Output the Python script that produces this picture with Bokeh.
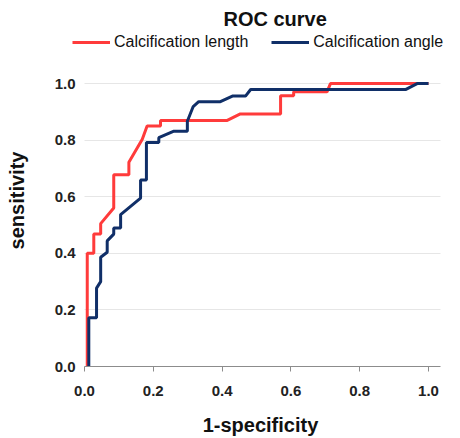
from bokeh.plotting import figure
from bokeh.models import Range1d, Legend, LegendItem, FixedTicker, Title, CustomJSTickFormatter
from bokeh.embed import file_html
from bokeh.resources import INLINE

# Data
length_fpr = [0.008, 0.008, 0.027, 0.027, 0.047, 0.047, 0.085, 0.085, 0.129, 0.129, 0.168, 0.182,
              0.221, 0.221, 0.415, 0.453, 0.570, 0.570, 0.608, 0.608, 0.705, 0.715, 1.0]
length_tpr = [0.0, 0.40, 0.40, 0.468, 0.468, 0.505, 0.56, 0.678, 0.678, 0.722, 0.803, 0.85,
              0.85, 0.87, 0.87, 0.893, 0.893, 0.957, 0.957, 0.971, 0.971, 1.0, 1.0]

angle_fpr = [0.0125, 0.0125, 0.035, 0.035, 0.047, 0.047, 0.066, 0.066, 0.085, 0.085, 0.105, 0.105,
             0.163, 0.163, 0.18, 0.18, 0.216, 0.216, 0.26, 0.299, 0.299, 0.316, 0.332, 0.395,
             0.43, 0.468, 0.483, 0.933, 0.967, 1.0]
angle_tpr = [0.0, 0.172, 0.172, 0.277, 0.30, 0.386, 0.404, 0.444, 0.468, 0.49, 0.49, 0.537,
             0.595, 0.659, 0.659, 0.792, 0.792, 0.809, 0.832, 0.832, 0.867, 0.919, 0.936, 0.936,
             0.956, 0.956, 0.979, 0.979, 1.0, 1.0]

ticks = [0.0, 0.2, 0.4, 0.6, 0.8, 1.0]
series_names = ["Calcification length", "Calcification angle"]
RED = "#FF3B3B"
BLUE = "#102F68"
FONT = "Liberation Sans"

# frame: x 0..1 spans 344 px, y 0..1 spans 288 px; extra room keeps the legend inside the frame
p = figure(width=460, height=438, output_backend="svg", toolbar_location=None,
           x_range=Range1d(-14 / 344, 366 / 344), y_range=Range1d(0, 338 / 288),
           min_border_left=70, min_border_right=10, min_border_top=30, min_border_bottom=70)
p.outline_line_color = None
p.background_fill_color = "white"

p.title = Title(text="ROC curve", align="left", offset=153, text_font=FONT,
                text_font_size="20px", text_font_style="bold", text_color="#111111")

r1 = p.line(length_fpr, length_tpr, line_color=RED, line_width=3)
r2 = p.line(angle_fpr, angle_tpr, line_color=BLUE, line_width=3)

legend = Legend(items=[LegendItem(label=series_names[0], renderers=[r1]),
                       LegendItem(label=series_names[1], renderers=[r2])],
                orientation="horizontal", location=(2, 315),
                label_text_font=FONT, label_text_font_size="16px", label_text_color="#111111",
                glyph_width=38, glyph_height=14, label_standoff=4, spacing=23,
                padding=0, margin=0, border_line_color=None, background_fill_alpha=0)
p.add_layout(legend, "center")

p.xgrid.visible = False
p.ygrid.grid_line_color = "#E6E6E6"
p.ygrid.ticker = FixedTicker(ticks=ticks)
try:
    p.ygrid.cross_bounds = (0, 356 / 344)
except Exception:
    pass

p.xaxis.ticker = FixedTicker(ticks=ticks)
p.yaxis.ticker = FixedTicker(ticks=ticks)
fmt = CustomJSTickFormatter(code="return tick.toFixed(1);")
for ax in (p.xaxis, p.yaxis):
    ax.formatter = fmt
    ax.major_label_text_font = FONT
    ax.major_label_text_font_size = "15px"
    ax.major_label_text_font_style = "bold"
    ax.major_label_text_color = "#222222"
    ax.axis_label_text_font = FONT
    ax.axis_label_text_font_size = "20px"
    ax.axis_label_text_font_style = "bold"
    ax.axis_label_text_color = "#111111"
    ax.minor_tick_line_color = None

p.xaxis.bounds = (0, 356 / 344)
p.xaxis.axis_label = "1-specificity"
p.xaxis.axis_line_color = "#8C8C8C"
p.xaxis.major_tick_line_color = "#8C8C8C"
p.xaxis.major_tick_out = 5
p.xaxis.major_tick_in = 0
p.xaxis.major_label_standoff = 14
p.xaxis.axis_label_standoff = 15

p.yaxis.bounds = (0, 1.0)
p.yaxis.axis_label = "sensitivity"
p.yaxis.axis_line_color = None
p.yaxis.major_tick_line_color = None
p.yaxis.major_tick_out = 0
p.yaxis.major_tick_in = 0
p.yaxis.major_label_standoff = -5
p.yaxis.axis_label_standoff = 24

open("out.html", "w").write(file_html(p, INLINE))
